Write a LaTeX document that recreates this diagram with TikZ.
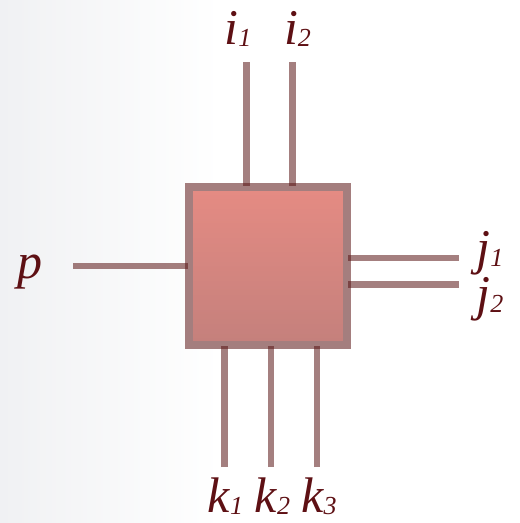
\documentclass[tikz,border=0pt]{standalone}
\usepackage{fontspec}
\setmainfont{Liberation Serif}
\usetikzlibrary{positioning}
\definecolor{TensorEdge}{HTML}{A47E7E}
\definecolor{TensorTop}{HTML}{E58B83}
\definecolor{TensorBottom}{HTML}{C4807C}
\definecolor{LegBrown}{HTML}{5A1515}
\definecolor{IndexRed}{HTML}{5E1014}
\definecolor{PageGray}{HTML}{F0F1F3}
\newcommand{\idx}[2]{#1\raisebox{-2pt}{\fontsize{26}{26}\selectfont #2}}

\begin{document}
\begin{tikzpicture}[x=1pt, y=-1pt,
  tensor/.style={draw=TensorEdge, line width=7.5pt, top color=TensorTop, bottom color=TensorBottom, minimum size=158pt, inner sep=0pt, outer sep=1pt},
  leg/.style={draw=LegBrown, draw opacity=0.55, line width=6.5pt},
  index/.style={text=IndexRed, font=\itshape\fontsize{50}{50}\selectfont, anchor=base, inner sep=0pt}
]
  % page
  \useasboundingbox (0,0) rectangle (520,523);
  \fill[left color=PageGray, right color=white] (0,0) rectangle (220,523);

  % the tensor
  \node[tensor] (blk) at (268,266) {};

  % free ends of the legs
  \coordinate (i1end) at (246.5,62);
  \coordinate (i2end) at (292.5,62);
  \coordinate (pend) at (73,266);
  \coordinate (j1end) at (459,258);
  \coordinate (j2end) at (459,284.5);
  \coordinate (k1end) at (224.5,467);
  \coordinate (k2end) at (271,467);
  \coordinate (k3end) at (317,467);

  \draw[leg] (i1end) -- (i1end |- blk.north);
  \draw[leg] (i2end) -- (i2end |- blk.north);
  \draw[leg] (pend) -- (pend -| blk.west);
  \draw[leg] (j1end) -- (j1end -| blk.east);
  \draw[leg] (j2end) -- (j2end -| blk.east);
  \draw[leg] (k1end) -- (k1end |- blk.south);
  \draw[leg] (k2end) -- (k2end |- blk.south);
  \draw[leg] (k3end) -- (k3end |- blk.south);

  % index labels
  \node[index] (i1) at (238,44) {\idx{i}{1}};
  \node[index] (i2) at (297.5,44) {\idx{i}{2}};
  \node[index] (p) at (30,278) {p};
  \node[index] (j1) at (490,264) {\idx{j}{1}};
  \node[index] (j2) at (490,310) {\idx{j}{2}};
  \node[index] (k1) at (225.5,512) {\idx{k}{1}};
  \node[index] (k2) at (272.5,512) {\idx{k}{2}};
  \node[index] (k3) at (319,512) {\idx{k}{3}};
\end{tikzpicture}
\end{document}
